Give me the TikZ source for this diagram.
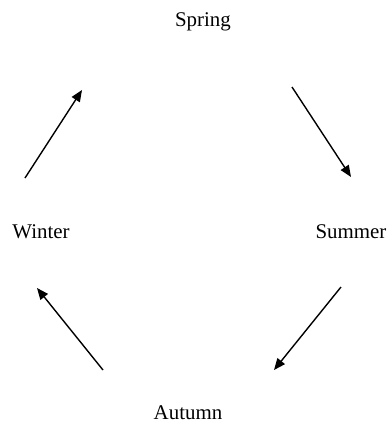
\documentclass[tikz,border=0pt]{standalone}
\usepackage{fontspec}
\setmainfont{Liberation Serif}
\usetikzlibrary{arrows.meta}

\begin{document}
\begin{tikzpicture}[x=0.574pt,y=-0.574pt,font=\fontsize{12}{14}\selectfont,
  season/.style={inner sep=1pt},
  cyclearrow/.style={-{Triangle[length=6.6pt,width=5.4pt]},line width=0.8pt}]
  % page frame
  \useasboundingbox (0,0) rectangle (388,424);
  % seasons
  \node[season] (spring) at (203,22) {Spring};
  \node[season] (summer) at (351,232) {Summer};
  \node[season] (autumn) at (188,413) {Autumn};
  \node[season] (winter) at (41,232) {Winter};
  % arrow ends between the labels
  \coordinate (ws0) at (25,178);  \coordinate (ws1) at (82,90);
  \coordinate (ss0) at (292,87);  \coordinate (ss1) at (351,177);
  \coordinate (sa0) at (341,287); \coordinate (sa1) at (274,370);
  \coordinate (aw0) at (103,370); \coordinate (aw1) at (37,288);
  % cycle arrows
  \draw[cyclearrow] (ws0) -- (ws1);
  \draw[cyclearrow] (ss0) -- (ss1);
  \draw[cyclearrow] (sa0) -- (sa1);
  \draw[cyclearrow] (aw0) -- (aw1);
\end{tikzpicture}
\end{document}
